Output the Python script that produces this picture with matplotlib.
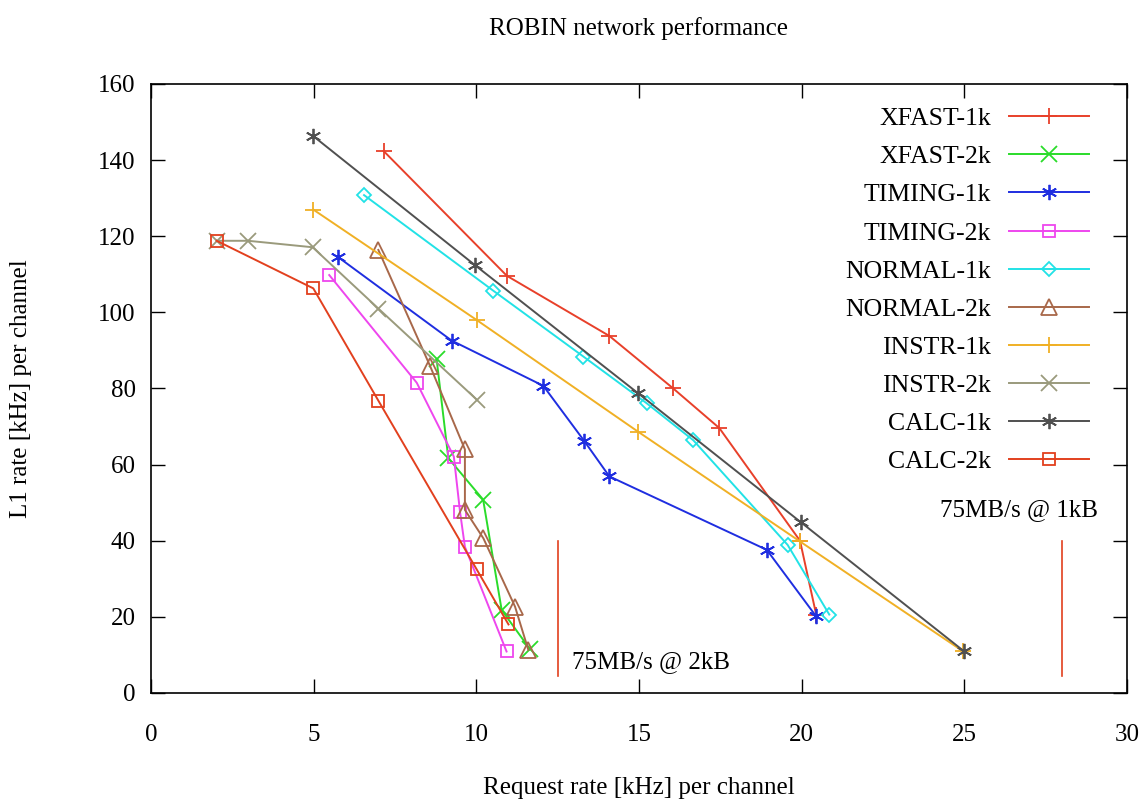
import matplotlib.pyplot as plt

plt.rcParams['font.family'] = ['Liberation Serif', 'DejaVu Serif']

# data
xfast1k_x = [7.15, 10.94, 14.09, 16.04, 17.47, 19.95, 20.45]
xfast1k_y = [142.4, 109.6, 93.8, 80.1, 69.6, 40.0, 20.5]
xfast2k_x = [8.78, 9.14, 10.21, 10.78, 11.65]
xfast2k_y = [87.7, 61.7, 50.8, 21.8, 11.5]
timing1k_x = [5.74, 9.24, 12.06, 13.31, 14.09, 18.93, 20.44]
timing1k_y = [114.6, 92.6, 80.7, 66.3, 56.9, 37.6, 20.2]
timing2k_x = [5.48, 8.17, 9.31, 9.50, 9.65, 10.93]
timing2k_y = [109.8, 81.5, 62.1, 47.6, 38.4, 10.9]
normal1k_x = [6.55, 10.52, 13.29, 15.24, 16.67, 19.57, 20.85]
normal1k_y = [130.8, 105.7, 88.4, 76.1, 66.4, 38.9, 20.6]
normal2k_x = [6.99, 8.58, 9.65, 9.65, 10.22, 11.19, 11.60]
normal2k_y = [116.4, 85.9, 64.0, 48.1, 40.6, 22.7, 11.3]
instr1k_x = [4.99, 10.01, 14.98, 19.95, 24.97]
instr1k_y = [127.0, 98.0, 68.6, 39.8, 10.9]
instr2k_x = [2.02, 2.99, 4.97, 6.99, 10.01]
instr2k_y = [118.8, 118.8, 117.1, 101.0, 77.1]
calc1k_x = [4.99, 9.96, 14.98, 19.97, 25.0]
calc1k_y = [146.3, 112.4, 78.7, 44.9, 10.9]
calc2k_x = [2.02, 4.99, 6.99, 10.01, 10.99]
calc2k_y = [118.8, 106.3, 76.8, 32.5, 18.0]

limit_x = [12.5, 28.0]
limit_y = [4.5, 39.8]

asterisk = (6, 2, 0)
series = [
    ('XFAST-1k', xfast1k_x, xfast1k_y, '#e8402a', '+', 'full'),
    ('XFAST-2k', xfast2k_x, xfast2k_y, '#2adc2a', 'x', 'full'),
    ('TIMING-1k', timing1k_x, timing1k_y, '#1f2ee0', asterisk, 'full'),
    ('TIMING-2k', timing2k_x, timing2k_y, '#ee46ee', 's', 'none'),
    ('NORMAL-1k', normal1k_x, normal1k_y, '#22e2e6', 'D', 'none'),
    ('NORMAL-2k', normal2k_x, normal2k_y, '#a8684a', '^', 'none'),
    ('INSTR-1k', instr1k_x, instr1k_y, '#f0b025', '+', 'full'),
    ('INSTR-2k', instr2k_x, instr2k_y, '#9a9a7c', 'x', 'full'),
    ('CALC-1k', calc1k_x, calc1k_y, '#505050', asterisk, 'full'),
    ('CALC-2k', calc2k_x, calc2k_y, '#e2401e', 's', 'none'),
]

fig = plt.figure(figsize=(11.41, 7.99), dpi=100)
ax = fig.add_axes([0.1323, 0.1327, 0.8554, 0.7622])

for name, xs, ys, col, mk, fill in series:
    ms = 11
    if mk == 'D':
        ms = 7
    elif mk == 's':
        ms = 9
    elif mk == '^':
        ms = 11
    ax.plot(xs, ys, color=col, lw=1.4, marker=mk, markersize=ms,
            fillstyle=fill, markeredgewidth=1.3, label=name)

for lx in limit_x:
    ax.plot([lx, lx], limit_y, color='#e2401e', lw=1.2)

ax.text(12.95, 8.2, '75MB/s @ 2kB', fontsize=18, ha='left', va='center')
ax.text(29.1, 48.0, '75MB/s @ 1kB', fontsize=18, ha='right', va='center')

ax.set_xlim(0, 30)
ax.set_ylim(0, 160)
ax.set_xticks(range(0, 31, 5))
ax.set_yticks(range(0, 161, 20))
ax.tick_params(direction='in', length=10, width=1, labelsize=18,
               top=True, right=True)
ax.tick_params(axis='x', pad=22)
ax.tick_params(axis='y', pad=11)
for sp in ax.spines.values():
    sp.set_linewidth(1.2)

fig.text(0.56, 1 - 29 / 799, 'ROBIN network performance', fontsize=18,
         ha='center', va='center')
fig.text(0.56, 1 - 788 / 799, 'Request rate [kHz] per channel', fontsize=18,
         ha='center', va='center')
fig.text(21 / 1141, 1 - 389 / 799, 'L1 rate [kHz] per channel', fontsize=18,
         ha='center', va='center', rotation=90)

leg = ax.legend(loc='upper right', bbox_to_anchor=(0.961, 0.962), frameon=False,
                fontsize=18.5, markerfirst=False, handlelength=3.1,
                labelspacing=0.59, handletextpad=0.72, borderaxespad=0,
                borderpad=0)
for t in leg.get_texts():
    t.set_ha('right')

fig.savefig('out.png', dpi=100)
